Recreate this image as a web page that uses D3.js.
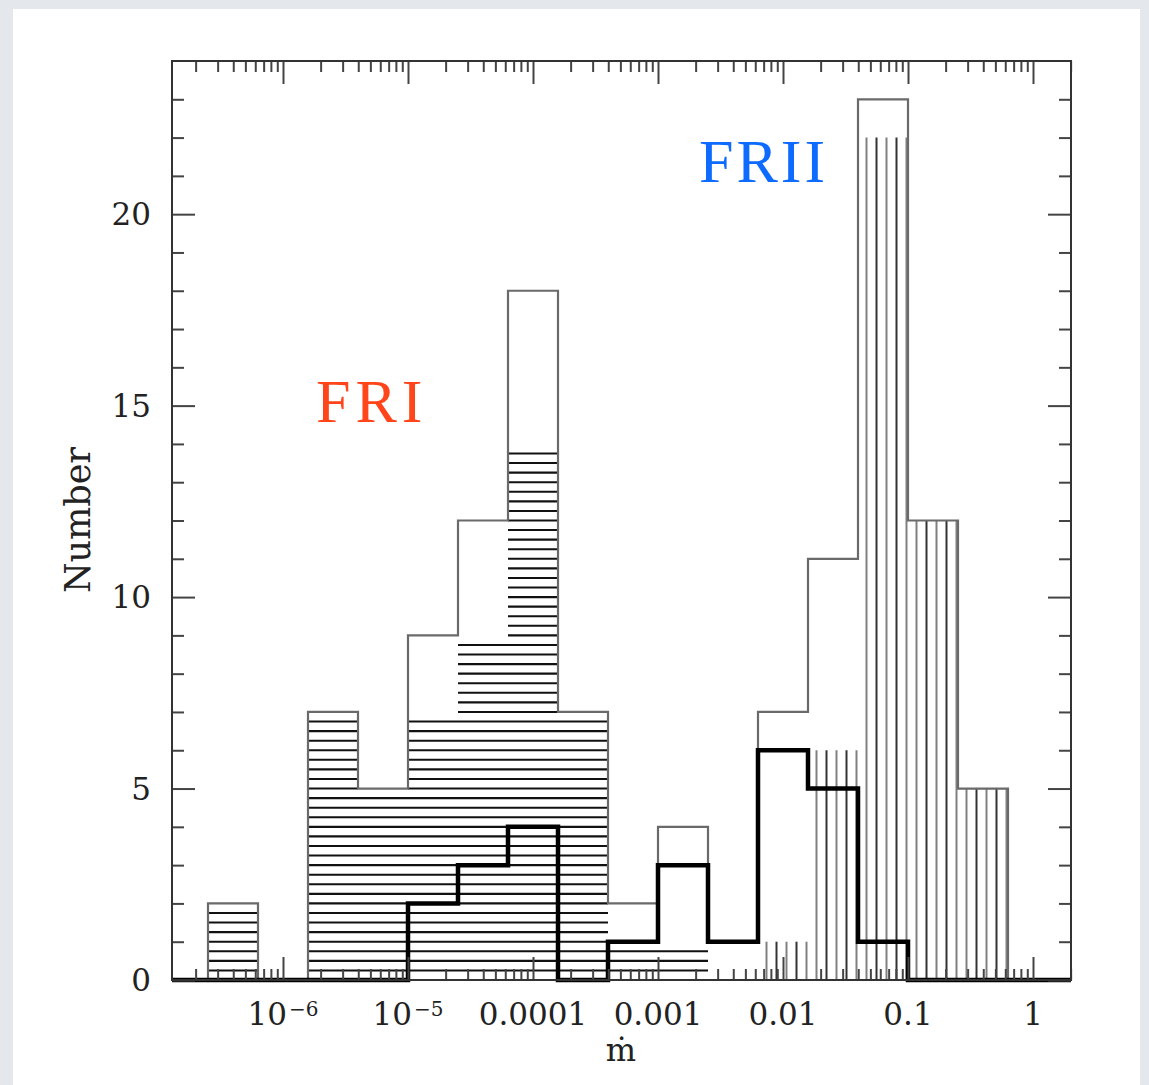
<!DOCTYPE html>
<html>
<head>
<meta charset="utf-8">
<script src="https://cdn.jsdelivr.net/npm/d3@7"></script>
<style>
  html, body { margin: 0; padding: 0; background: #e4e8ed; }
  svg { display: block; }
</style>
</head>
<body>
<svg id="chart" width="1149" height="1085"></svg>
<script>
// ---- data ----
// lower edges of the histogram bins, log10(mdot); every bin is 0.4 dex wide
const binLowLog = [-6.6, -6.2, -5.8, -5.4, -5.0, -4.6, -4.2, -3.8, -3.4, -3.0, -2.6, -2.2, -1.8, -1.4, -1.0, -0.6];
const binWidthLog = 0.4;
// whole sample (thin grey outline)
const totalCounts  = [2, 0, 7, 5, 9, 12, 18, 7, 2, 4, 1, 7, 11, 23, 12, 5];
// FRI (horizontal hatching)
const friCounts    = [2, 0, 7, 5, 7, 9, 14, 7, 1, 1, 0, 0, 0, 0, 0, 0];
// FRII (vertical hatching)
const friiCounts   = [0, 0, 0, 0, 0, 0, 0, 0, 0, 0, 0, 1, 6, 22, 12, 5];
// sub-sample (thick black outline)
const thickCounts  = [0, 0, 0, 0, 2, 3, 4, 0, 1, 3, 1, 6, 5, 1, 0, 0];

const xMajorTicks  = [1e-6, 1e-5, 1e-4, 1e-3, 1e-2, 1e-1, 1];
const xTickLabels  = [["10", "\u22126"], ["10", "\u22125"], ["0.0001", ""], ["0.001", ""], ["0.01", ""], ["0.1", ""], ["1", ""]];
const yMajorTicks  = [0, 5, 10, 15, 20];
const yTickLabels  = ["0", "5", "10", "15", "20"];
const xDomainLog   = [-6.888, 0.304];
const yDomain      = [0, 24];

// ---- layout ----
const L = 172, R = 1071, T = 61, B = 980;
const svg = d3.select("#chart");

// background panel
svg.append("rect").attr("x", 0).attr("y", 0).attr("width", 1149).attr("height", 1085).attr("fill", "#e4e8ed");
svg.append("rect").attr("x", 13).attr("y", 9).attr("width", 1127).attr("height", 1080).attr("fill", "#ffffff");

const x = d3.scaleLog().domain(xDomainLog.map(v => Math.pow(10, v))).range([L, R]);
const y = d3.scaleLinear().domain(yDomain).range([B, T]);

const bins = binLowLog.map((lo, i) => ({
  x0: Math.pow(10, lo),
  x1: Math.pow(10, lo + binWidthLog),
  lo: lo,
  total: totalCounts[i], fri: friCounts[i], frii: friiCounts[i], thick: thickCounts[i]
}));

const g = svg.append("g");

// ---- FRI horizontal hatching (every quarter count, below the top) ----
const hLines = [];
bins.forEach(b => {
  for (let k = 1; k < b.fri * 4; k++) hLines.push({ x0: b.x0, x1: b.x1, v: k / 4 });
});
g.selectAll("line.hh").data(hLines).join("line")
  .attr("class", "hh")
  .attr("x1", d => x(d.x0)).attr("x2", d => x(d.x1))
  .attr("y1", d => y(d.v)).attr("y2", d => y(d.v))
  .attr("stroke", "#111").attr("stroke-width", 2.1);

// ---- FRII vertical hatching (five lines per bin) ----
const vLines = [];
bins.forEach(b => {
  if (b.frii > 0) {
    for (let k = 0; k < 5; k++) {
      vLines.push({ xv: Math.pow(10, b.lo + 0.068 + 0.08 * k), v: b.frii, k: k });
    }
  }
});
g.selectAll("line.vh").data(vLines).join("line")
  .attr("class", "vh")
  .attr("x1", d => x(d.xv)).attr("x2", d => x(d.xv))
  .attr("y1", y(0)).attr("y2", d => y(d.v))
  .attr("stroke", d => (d.k % 2 === 0 ? "#808080" : "#333")).attr("stroke-width", 2);

// ---- step outlines ----
function stepPath(key, extend) {
  const pts = [];
  if (extend) pts.push([L, y(0)]);
  pts.push([x(bins[0].x0), y(0)]);
  bins.forEach(b => {
    pts.push([x(b.x0), y(b[key])]);
    pts.push([x(b.x1), y(b[key])]);
  });
  pts.push([x(bins[bins.length - 1].x1), y(0)]);
  if (extend) pts.push([R, y(0)]);
  return d3.line()(pts);
}
g.append("path").attr("d", stepPath("total", false))
  .attr("fill", "none").attr("stroke", "#6a6a6a").attr("stroke-width", 2.2);

// ---- axes ticks ----
const minorX = [];
for (let e = -8; e <= 1; e++) {
  for (let m = 2; m <= 9; m++) {
    const v = m * Math.pow(10, e);
    if (v > x.domain()[0] && v < x.domain()[1]) minorX.push(v);
  }
}
const minorY = d3.range(1, 24).filter(v => v % 5 !== 0);

function styleAxis(sel) {
  sel.select(".domain").remove();
  sel.selectAll(".tick line").attr("stroke", "#444").attr("stroke-width", 2);
  sel.selectAll(".tick text").remove();
}

// top
svg.append("g").attr("transform", `translate(0,${T})`)
  .call(d3.axisTop(x).tickValues(minorX).tickSize(-11).tickFormat("")).call(styleAxis);
svg.append("g").attr("transform", `translate(0,${T})`)
  .call(d3.axisTop(x).tickValues(xMajorTicks).tickSize(-23).tickFormat("")).call(styleAxis);
// bottom
svg.append("g").attr("transform", `translate(0,${B})`)
  .call(d3.axisBottom(x).tickValues(minorX).tickSize(-11).tickFormat("")).call(styleAxis);
svg.append("g").attr("transform", `translate(0,${B})`)
  .call(d3.axisBottom(x).tickValues(xMajorTicks).tickSize(-23).tickFormat("")).call(styleAxis);
// left
svg.append("g").attr("transform", `translate(${L},0)`)
  .call(d3.axisLeft(y).tickValues(minorY).tickSize(-12).tickFormat("")).call(styleAxis);
svg.append("g").attr("transform", `translate(${L},0)`)
  .call(d3.axisLeft(y).tickValues(yMajorTicks).tickSize(-23).tickFormat("")).call(styleAxis);
// right
svg.append("g").attr("transform", `translate(${R},0)`)
  .call(d3.axisRight(y).tickValues(minorY).tickSize(-12).tickFormat("")).call(styleAxis);
svg.append("g").attr("transform", `translate(${R},0)`)
  .call(d3.axisRight(y).tickValues(yMajorTicks).tickSize(-23).tickFormat("")).call(styleAxis);

// thick outline on top
g.append("path").attr("d", stepPath("thick", true))
  .attr("fill", "none").attr("stroke", "#000").attr("stroke-width", 4.5).attr("stroke-linejoin", "miter");

// frame
svg.append("rect").attr("x", L).attr("y", T).attr("width", R - L).attr("height", B - T)
  .attr("fill", "none").attr("stroke", "#333").attr("stroke-width", 2);

// ---- tick labels ----
const font = "'DejaVu Serif', serif";
svg.append("g").selectAll("text").data(yMajorTicks).join("text")
  .attr("x", 151).attr("y", d => y(d) + 11)
  .attr("text-anchor", "end")
  .attr("font-family", font).attr("font-size", 31).attr("fill", "#222")
  .text((d, i) => yTickLabels[i]);

const xl = svg.append("g").selectAll("text").data(xMajorTicks).join("text")
  .attr("x", d => x(d)).attr("y", 1025)
  .attr("text-anchor", "middle")
  .attr("font-family", font).attr("font-size", 31).attr("fill", "#222");
xl.each(function (d, i) {
  const t = d3.select(this);
  t.append("tspan").text(xTickLabels[i][0]);
  if (xTickLabels[i][1]) {
    t.append("tspan").attr("dy", -9).attr("font-size", 20).attr("dx", 2).text(xTickLabels[i][1]);
  }
});

// axis titles
svg.append("text").attr("x", 621).attr("y", 1061).attr("text-anchor", "middle")
  .attr("font-family", font).attr("font-size", 32).attr("fill", "#222").text("\u1E41");
svg.append("text").attr("transform", "translate(90,520) rotate(-90)").attr("text-anchor", "middle")
  .attr("font-family", font).attr("font-size", 35).attr("fill", "#222").text("Number");

// annotations
svg.append("text").attr("x", 316).attr("y", 422)
  .attr("font-family", "'Liberation Serif', 'Times New Roman', serif").attr("font-size", 62)
  .attr("letter-spacing", 5).attr("fill", "#ff4519").text("FRI");
svg.append("text").attr("x", 699).attr("y", 182)
  .attr("font-family", "'Liberation Serif', 'Times New Roman', serif").attr("font-size", 62)
  .attr("letter-spacing", 3).attr("fill", "#0e6bff").text("FRII");
</script>
</body>
</html>
